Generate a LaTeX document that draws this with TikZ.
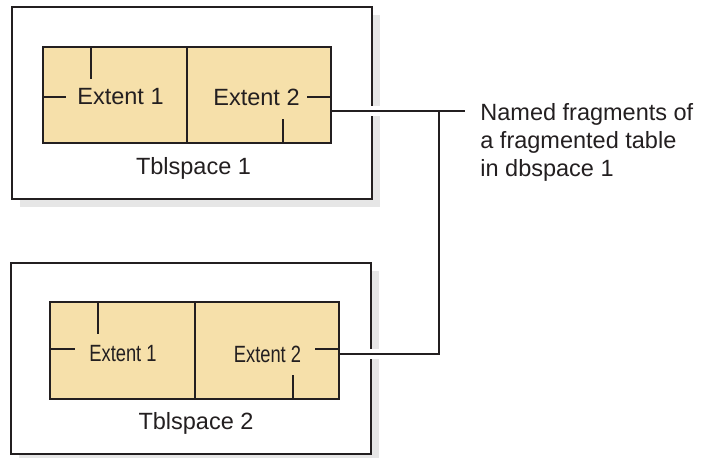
\documentclass[tikz,border=0pt]{standalone}
\usepackage{fontspec}
\setmainfont{Liberation Sans}
\newfontfamily\narrowfont[FakeStretch=0.78]{Liberation Sans}
\usetikzlibrary{calc,shadows}

\definecolor{extfill}{RGB}{246,224,170}
\definecolor{ink}{RGB}{35,31,32}
\definecolor{shade}{RGB}{230,230,230}

\tikzset{
  tblspace/.style={draw=ink, line width=1pt, fill=white, outer sep=0pt,
    minimum width=180pt, minimum height=96pt,
    drop shadow={shadow xshift=4pt, shadow yshift=-4pt, fill=shade, opacity=1}},
  extent/.style={draw=ink, line width=1pt, fill=extfill, outer sep=0pt,
    minimum width=72pt, minimum height=48pt},
  tick/.style={draw=ink, line width=1pt},
  wire/.style={draw=ink, line width=1pt},
  txt/.style={text=ink, inner sep=0pt, font=\fontsize{11.75}{14}\selectfont},
}

\begin{document}
\begin{tikzpicture}[x=0.5pt, y=-0.5pt]
  \useasboundingbox (0,0) rectangle (701,457);

  % tblspace 1
  \node[tblspace] (ts1) at (192,103) {};
  \node[extent] (e11) at (115,95) {};
  \node[extent] (e12) at (259,95) {};
  \node[txt] (t11) at (120.5,97) {Extent 1};
  \node[txt] (t12) at (256.5,97) {Extent 2};
  \draw[tick] (e11.north west) ++(48,0) -- ++(0,32);
  \draw[tick] (e11.north west) ++(0,50) -- ++(23,0);
  \draw[tick] (e12.north east) ++(0,50) -- ++(-24,0);
  \draw[tick] (e12.south east) ++(-48,0) -- ++(0,-24);
  \node[txt] (n1) at (193.5,168) {Tblspace 1};

  % tblspace 2
  \node[tblspace, minimum height=95.5pt] (ts2) at (191,358.5) {};
  \node[extent, minimum width=72.5pt, minimum height=48.5pt] (e21) at (122.5,350.5) {};
  \node[extent, minimum height=48.5pt] (e22) at (267,350.5) {};
  \node[txt, font=\fontsize{11.75}{14}\narrowfont] (t21) at (123,354) {Extent 1};
  \node[txt, font=\fontsize{11.75}{14}\narrowfont] (t22) at (267.5,354) {Extent 2};
  \draw[tick] (e21.north west) ++(48,0) -- ++(0,32);
  \draw[tick] (e21.north west) ++(0,47) -- ++(25,0);
  \draw[tick] (e22.north east) ++(0,47) -- ++(-24,0);
  \draw[tick] (e22.south east) ++(-46,0) -- ++(0,-24);
  \node[txt] (n2) at (196,423) {Tblspace 2};

  % fragments note
  \node[txt, anchor=north west, align=left] (note) at (480,103.5)
    {Named fragments of\\a fragmented table\\in dbspace 1};
  \coordinate (c1) at ($(e12.south east)+(0,-32)$);
  \coordinate (c2) at ($(e22.south east)+(0,-45)$);
  \coordinate (tip) at (465,111);
  \coordinate (j1) at (439,111);

  % gaps in the box edges
  \fill[white] (ts1.east |- c1) ++(-6,-5) rectangle ++(22,10);
  \fill[white] (ts2.east |- c2) ++(-6,-5) rectangle ++(22,10);

  \draw[wire] (c1) -- (tip);
  \draw[wire] (j1) |- (c2);
\end{tikzpicture}
\end{document}
